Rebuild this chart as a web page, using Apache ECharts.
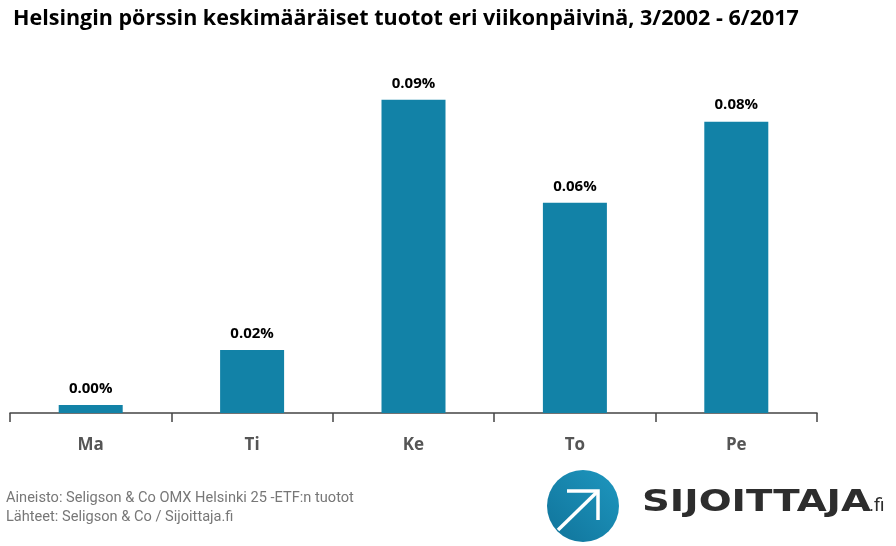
<!DOCTYPE html>
<html><head><meta charset="utf-8">
<script src="https://cdn.jsdelivr.net/npm/echarts@6/dist/echarts.min.js"></script>
<style>html,body{margin:0;padding:0;background:#fff}#c{width:896px;height:546px}</style>
</head><body><div id="c"></div>
<script>
const categories = ['Ma','Ti','Ke','To','Pe'];
const values = [0.0023, 0.0181, 0.0900, 0.0604, 0.0837];
const titleText = 'Helsingin pörssin keskimääräiset tuotot eri viikonpäivinä, 3/2002 - 6/2017';
const footer1 = 'Aineisto: Seligson & Co OMX Helsinki 25 -ETF:n tuotot';
const footer2 = 'Lähteet: Seligson & Co / Sijoittaja.fi';

const chart = echarts.init(document.getElementById('c'));
chart.setOption({
  animation:false,
  backgroundColor:'#fff',
  title:{text:titleText,left:8,top:3,textStyle:{fontFamily:'Open Sans',fontWeight:'bold',fontSize:21.5,color:'#000'}},
  grid:{left:10,right:79,top:65,bottom:133,containLabel:false},
  xAxis:{type:'category',data:categories,
    axisLine:{lineStyle:{color:'#444',width:1.5}},
    axisTick:{show:true,length:9,lineStyle:{color:'#444',width:1.5}},
    axisLabel:{margin:24,fontFamily:'Open Sans',fontWeight:'bold',fontSize:17,color:'#555'}},
  yAxis:{type:'value',min:0,max:0.1,show:false,splitLine:{show:false}},
  series:[{type:'bar',data:values,barWidth:64,itemStyle:{color:'#1282a7'},
    label:{show:true,position:'top',distance:9,fontFamily:'Open Sans',fontWeight:'bold',fontSize:15,color:'#000',
      formatter:p=>p.value.toFixed(2)+'%'}}],
  graphic:[
    {type:'text',left:6,top:491,style:{text:footer1,fontFamily:'Roboto',fontSize:14.6,fill:'#777'}},
    {type:'text',left:6,top:510,style:{text:footer2,fontFamily:'Roboto',fontSize:14.6,fill:'#777'}},
    {type:'circle',shape:{cx:583,cy:506,r:36},style:{fill:new echarts.graphic.LinearGradient(1,0,0,1,[{offset:0,color:'#1e97bf'},{offset:1,color:'#10739a'}])}},
    {type:'polyline',shape:{points:[[558,530],[597,492]]},style:{stroke:'#fff',lineWidth:3.5,fill:null}},
    {type:'polyline',shape:{points:[[567,491],[598,491],[598,520]]},style:{stroke:'#fff',lineWidth:3.5,fill:null}},
    {type:'group',x:642,y:503,scaleX:1.29,children:[
      {type:'text',style:{x:0,y:0,text:'SIJOITTAJA',fontFamily:'DejaVu Sans',fontWeight:'bold',fontSize:30,fill:'#2d2d2d',verticalAlign:'middle'}}]},
    {type:'group',x:869,y:506.5,children:[
      {type:'text',style:{x:0,y:0,text:'.fi',fontFamily:'Roboto',fontSize:19,fill:'#2d2d2d',verticalAlign:'middle'}}]}
  ]
});
</script></body></html>
